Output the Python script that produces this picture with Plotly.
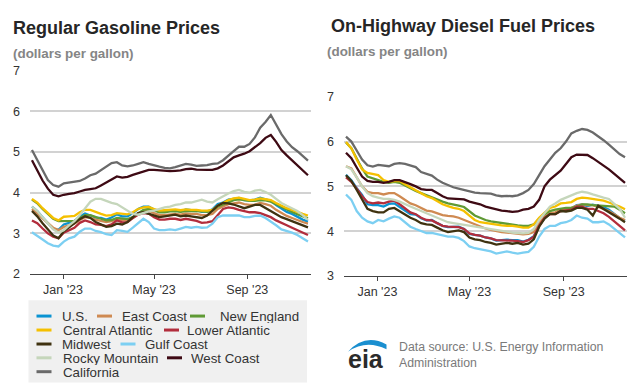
import plotly.graph_objects as go
import pandas as pd

W, H = 627, 392
FONT = "Liberation Sans, Arial, sans-serif"

# ---------------- data ----------------
dates = pd.date_range("2022-11-21", periods=53, freq="7D")

regions = ["U.S.", "East Coast", "New England", "Central Atlantic", "Lower Atlantic",
           "Midwest", "Gulf Coast", "Rocky Mountain", "West Coast", "California"]
colors = ["#0a93d2", "#cf8a52", "#5f9a35", "#f5c000", "#b22d3c",
          "#3f3210", "#7ccff2", "#c5d6bb", "#3e0a14", "#6a6a6a"]

x_tick_vals = ["2023-01-01", "2023-05-01", "2023-09-01"]
x_tick_text = ["Jan '23", "May '23", "Sep '23"]

# Regular gasoline ($/gal)
gas_us = [3.66, 3.55, 3.40, 3.25, 3.11, 3.09, 3.22, 3.26, 3.31, 3.42,
          3.49, 3.44, 3.39, 3.38, 3.34, 3.39, 3.47, 3.42, 3.42, 3.50,
          3.60, 3.66, 3.66, 3.59, 3.53, 3.54, 3.56, 3.57, 3.54, 3.59,
          3.57, 3.57, 3.53, 3.54, 3.59, 3.72, 3.76, 3.83, 3.85, 3.87,
          3.82, 3.81, 3.83, 3.88, 3.84, 3.80, 3.70, 3.61, 3.53, 3.48,
          3.40, 3.34, 3.29]
gas_east = [3.60, 3.50, 3.37, 3.25, 3.14, 3.08, 3.16, 3.20, 3.24, 3.33,
            3.40, 3.39, 3.34, 3.31, 3.28, 3.30, 3.36, 3.33, 3.32, 3.38,
            3.48, 3.55, 3.56, 3.50, 3.45, 3.45, 3.47, 3.48, 3.46, 3.49,
            3.48, 3.48, 3.45, 3.45, 3.48, 3.60, 3.66, 3.72, 3.74, 3.76,
            3.72, 3.70, 3.71, 3.75, 3.72, 3.68, 3.58, 3.50, 3.43, 3.38,
            3.32, 3.28, 3.24]
gas_ne = [3.83, 3.74, 3.60, 3.48, 3.36, 3.30, 3.30, 3.30, 3.31, 3.38,
          3.45, 3.45, 3.40, 3.36, 3.32, 3.33, 3.38, 3.36, 3.35, 3.40,
          3.50, 3.58, 3.60, 3.57, 3.52, 3.52, 3.54, 3.55, 3.53, 3.55,
          3.55, 3.55, 3.54, 3.53, 3.56, 3.66, 3.72, 3.78, 3.82, 3.84,
          3.82, 3.80, 3.80, 3.82, 3.81, 3.78, 3.72, 3.65, 3.58, 3.53,
          3.47, 3.42, 3.37]
gas_ca_atl = [3.85, 3.76, 3.62, 3.50, 3.38, 3.32, 3.41, 3.42, 3.43, 3.52,
              3.58, 3.58, 3.52, 3.48, 3.44, 3.45, 3.50, 3.48, 3.47, 3.52,
              3.60, 3.64, 3.65, 3.60, 3.56, 3.57, 3.58, 3.59, 3.57, 3.59,
              3.58, 3.58, 3.56, 3.56, 3.58, 3.68, 3.75, 3.82, 3.86, 3.88,
              3.85, 3.82, 3.83, 3.86, 3.84, 3.82, 3.75, 3.68, 3.62, 3.58,
              3.52, 3.48, 3.44]
gas_low_atl = [3.32, 3.25, 3.12, 3.00, 2.92, 2.88, 3.02, 3.08, 3.14, 3.26,
               3.32, 3.28, 3.22, 3.21, 3.18, 3.22, 3.32, 3.27, 3.28, 3.38,
               3.46, 3.50, 3.49, 3.40, 3.34, 3.34, 3.36, 3.36, 3.33, 3.36,
               3.33, 3.31, 3.26, 3.27, 3.30, 3.45, 3.60, 3.64, 3.62, 3.58,
               3.55, 3.52, 3.52, 3.50, 3.45, 3.40, 3.32, 3.25, 3.20, 3.14,
               3.08, 3.02, 2.96]
gas_midwest = [3.55, 3.42, 3.25, 3.10, 2.95, 2.88, 3.05, 3.15, 3.25, 3.35,
               3.42, 3.38, 3.28, 3.22, 3.16, 3.18, 3.24, 3.22, 3.28, 3.40,
               3.50, 3.52, 3.48, 3.44, 3.40, 3.42, 3.44, 3.46, 3.42, 3.44,
               3.42, 3.40, 3.38, 3.44, 3.55, 3.68, 3.75, 3.74, 3.71, 3.66,
               3.62, 3.66, 3.70, 3.70, 3.62, 3.55, 3.48, 3.40, 3.35, 3.30,
               3.26, 3.20, 3.15]
gas_gulf = [3.03, 2.95, 2.85, 2.76, 2.70, 2.68, 2.80, 2.88, 2.92, 3.04,
            3.12, 3.12, 3.06, 3.03, 2.98, 2.96, 3.08, 3.06, 3.04, 3.14,
            3.25, 3.36, 3.28, 3.12, 3.08, 3.08, 3.10, 3.08, 3.12, 3.16,
            3.14, 3.16, 3.14, 3.15, 3.24, 3.40, 3.44, 3.44, 3.45, 3.44,
            3.40, 3.40, 3.43, 3.44, 3.38, 3.30, 3.20, 3.10, 3.06, 3.02,
            2.96, 2.88, 2.80]
gas_rocky = [3.66, 3.55, 3.40, 3.25, 3.10, 3.02, 3.08, 3.20, 3.30, 3.45,
             3.62, 3.78, 3.85, 3.85, 3.80, 3.75, 3.72, 3.64, 3.54, 3.48,
             3.46, 3.50, 3.54, 3.56, 3.60, 3.64, 3.66, 3.70, 3.72, 3.76,
             3.76, 3.80, 3.83, 3.78, 3.76, 3.84, 3.92, 3.98, 4.04, 4.07,
             4.02, 4.00, 4.05, 4.07, 4.02, 3.95, 3.85, 3.75, 3.68, 3.62,
             3.55, 3.45, 3.33]
gas_west = [4.80, 4.55, 4.30, 4.10, 3.95, 3.91, 3.95, 3.97, 3.99, 4.03,
            4.07, 4.09, 4.11, 4.18, 4.25, 4.33, 4.40, 4.37, 4.39, 4.44,
            4.48, 4.52, 4.56, 4.56, 4.55, 4.54, 4.53, 4.54, 4.55, 4.58,
            4.59, 4.57, 4.56, 4.56, 4.56, 4.60, 4.67, 4.77, 4.87, 4.92,
            4.96, 5.02, 5.12, 5.22, 5.35, 5.42, 5.25, 5.05, 4.92, 4.80,
            4.68, 4.55, 4.43]
gas_calif = [5.05, 4.79, 4.55, 4.31, 4.19, 4.15, 4.23, 4.25, 4.26, 4.29,
             4.35, 4.43, 4.47, 4.55, 4.65, 4.73, 4.75, 4.67, 4.65, 4.67,
             4.71, 4.75, 4.71, 4.67, 4.64, 4.61, 4.60, 4.63, 4.67, 4.71,
             4.69, 4.66, 4.67, 4.68, 4.71, 4.72, 4.80, 4.90, 5.02, 5.13,
             5.13, 5.20, 5.36, 5.60, 5.74, 5.91, 5.66, 5.44, 5.26, 5.12,
             5.02, 4.90, 4.79]

# On-highway diesel ($/gal)
dsl_us = [5.26, 5.14, 4.96, 4.81, 4.60, 4.58, 4.58, 4.55, 4.61, 4.62,
          4.54, 4.45, 4.38, 4.37, 4.29, 4.24, 4.25, 4.18, 4.12, 4.09,
          4.10, 4.10, 4.05, 3.94, 3.92, 3.90, 3.86, 3.84, 3.79, 3.80,
          3.81, 3.80, 3.80, 3.77, 3.81, 3.89, 4.13, 4.29, 4.39, 4.39,
          4.47, 4.47, 4.50, 4.58, 4.59, 4.56, 4.59, 4.56, 4.54, 4.48,
          4.38, 4.29, 4.23]
dsl_east = [5.45, 5.40, 5.20, 5.00, 4.88, 4.85, 4.85, 4.82, 4.85, 4.85,
            4.78, 4.70, 4.62, 4.58, 4.52, 4.46, 4.44, 4.40, 4.36, 4.34,
            4.33, 4.30, 4.25, 4.20, 4.16, 4.10, 4.06, 4.03, 4.00, 3.98,
            3.97, 3.96, 3.95, 3.93, 3.94, 3.98, 4.18, 4.32, 4.40, 4.42,
            4.48, 4.50, 4.52, 4.57, 4.60, 4.58, 4.58, 4.54, 4.50, 4.45,
            4.38, 4.30, 4.25]
dsl_ne = [5.98, 5.85, 5.62, 5.40, 5.22, 5.18, 5.15, 5.10, 5.08, 5.10,
          5.08, 5.02, 4.95, 4.90, 4.85, 4.80, 4.75, 4.70, 4.66, 4.62,
          4.60, 4.57, 4.54, 4.45, 4.35, 4.30, 4.25, 4.22, 4.20, 4.18,
          4.16, 4.15, 4.13, 4.12, 4.12, 4.15, 4.28, 4.38, 4.45, 4.48,
          4.50, 4.52, 4.52, 4.55, 4.60, 4.60, 4.58, 4.57, 4.56, 4.56,
          4.55, 4.48, 4.40]
dsl_ca_atl = [5.99, 5.85, 5.60, 5.38, 5.30, 5.28, 5.25, 5.14, 5.10, 5.12,
              5.12, 5.05, 4.98, 4.92, 4.84, 4.78, 4.74, 4.66, 4.60, 4.56,
              4.52, 4.50, 4.45, 4.35, 4.25, 4.20, 4.18, 4.16, 4.14, 4.13,
              4.12, 4.12, 4.10, 4.08, 4.08, 4.15, 4.30, 4.42, 4.52, 4.55,
              4.62, 4.63, 4.65, 4.72, 4.75, 4.74, 4.72, 4.70, 4.68, 4.64,
              4.60, 4.55, 4.49]
dsl_low_atl = [5.20, 5.10, 4.95, 4.78, 4.65, 4.62, 4.64, 4.62, 4.66, 4.68,
               4.60, 4.50, 4.42, 4.38, 4.30, 4.25, 4.24, 4.18, 4.12, 4.10,
               4.10, 4.09, 4.05, 3.95, 3.92, 3.90, 3.86, 3.84, 3.80, 3.80,
               3.80, 3.79, 3.78, 3.76, 3.80, 3.88, 4.12, 4.30, 4.38, 4.38,
               4.45, 4.46, 4.48, 4.55, 4.55, 4.50, 4.50, 4.45, 4.40, 4.32,
               4.22, 4.12, 4.02]
dsl_midwest = [5.25, 5.12, 4.92, 4.72, 4.50, 4.45, 4.42, 4.42, 4.50, 4.52,
               4.45, 4.38, 4.30, 4.25, 4.18, 4.15, 4.14, 4.08, 4.02, 3.98,
               4.00, 4.02, 3.98, 3.86, 3.82, 3.80, 3.76, 3.74, 3.70, 3.72,
               3.74, 3.72, 3.74, 3.70, 3.72, 3.82, 4.10, 4.28, 4.38, 4.38,
               4.45, 4.44, 4.46, 4.52, 4.52, 4.48, 4.35, 4.57, 4.50, 4.42,
               4.35, 4.28, 4.20]
dsl_gulf = [4.82, 4.70, 4.45, 4.30, 4.22, 4.18, 4.25, 4.22, 4.28, 4.33,
            4.30, 4.20, 4.10, 4.05, 4.00, 3.96, 3.96, 3.93, 3.90, 3.88,
            3.88, 3.85, 3.78, 3.66, 3.62, 3.60, 3.58, 3.55, 3.50, 3.52,
            3.55, 3.52, 3.50, 3.52, 3.54, 3.65, 3.88, 4.05, 4.12, 4.12,
            4.18, 4.20, 4.25, 4.35, 4.30, 4.28, 4.20, 4.20, 4.22, 4.15,
            4.05, 3.95, 3.86]
dsl_rocky = [5.45, 5.38, 5.20, 5.00, 4.85, 4.78, 4.75, 4.72, 4.72, 4.70,
             4.66, 4.60, 4.55, 4.50, 4.45, 4.40, 4.35, 4.30, 4.25, 4.20,
             4.18, 4.16, 4.15, 4.12, 4.10, 4.08, 4.06, 4.04, 4.02, 4.00,
             3.98, 3.97, 3.96, 3.95, 3.96, 4.05, 4.25, 4.40, 4.55, 4.62,
             4.70, 4.75, 4.80, 4.85, 4.88, 4.86, 4.82, 4.78, 4.75, 4.72,
             4.62, 4.50, 4.30]
dsl_west = [5.75, 5.63, 5.42, 5.22, 5.12, 5.10, 5.10, 5.08, 5.10, 5.14,
            5.14, 5.10, 5.05, 5.00, 4.94, 4.92, 4.92, 4.85, 4.78, 4.73,
            4.72, 4.72, 4.71, 4.66, 4.63, 4.60, 4.55, 4.52, 4.48, 4.46,
            4.45, 4.43, 4.44, 4.48, 4.50, 4.55, 4.70, 5.00, 5.15, 5.25,
            5.35, 5.50, 5.65, 5.71, 5.71, 5.70, 5.63, 5.55, 5.47, 5.38,
            5.28, 5.17, 5.08]
dsl_calif = [6.11, 6.00, 5.80, 5.60, 5.47, 5.44, 5.48, 5.47, 5.45, 5.50,
             5.52, 5.50, 5.47, 5.43, 5.32, 5.28, 5.24, 5.15, 5.08, 5.03,
             4.98, 4.95, 4.92, 4.88, 4.86, 4.85, 4.84, 4.84, 4.80, 4.78,
             4.79, 4.78, 4.80, 4.85, 4.92, 5.05, 5.25, 5.45, 5.60, 5.75,
             5.85, 6.00, 6.18, 6.24, 6.28, 6.26, 6.20, 6.12, 6.03, 5.93,
             5.82, 5.72, 5.65]

gasoline = [gas_us, gas_east, gas_ne, gas_ca_atl, gas_low_atl,
            gas_midwest, gas_gulf, gas_rocky, gas_west, gas_calif]
diesel = [dsl_us, dsl_east, dsl_ne, dsl_ca_atl, dsl_low_atl,
          dsl_midwest, dsl_gulf, dsl_rocky, dsl_west, dsl_calif]

# ---------------- layout helpers ----------------
def px(x):
    return x / W


def py(y):
    return 1 - y / H


fig = go.Figure()

for name, col, g, d in zip(regions, colors, gasoline, diesel):
    fig.add_trace(go.Scatter(x=dates, y=g, name=name, mode="lines",
                             line=dict(color=col, width=2.3),
                             xaxis="x", yaxis="y", showlegend=False))
    fig.add_trace(go.Scatter(x=dates, y=d, name=name, mode="lines",
                             line=dict(color=col, width=2.3),
                             xaxis="x2", yaxis="y2", showlegend=False))

tickfont = dict(family=FONT, size=12.5, color="#333333")
grid = "#d2d2d2"

xcommon = dict(tickvals=x_tick_vals, ticktext=x_tick_text, showgrid=False,
               showline=True, linecolor="#444444", linewidth=1.2,
               ticks="outside", ticklen=4, tickcolor="#444444", tickwidth=1,
               tickfont=tickfont, zeroline=False, fixedrange=True)
ycommon = dict(dtick=1, showgrid=True, gridcolor=grid, gridwidth=1.6,
               showline=False, zeroline=False, ticks="", tickfont=tickfont,
               ticklabelstandoff=9, fixedrange=True)

# figure size is taken from its page box (fixed 627x392 at the top-left corner)
fig.update_layout(
    autosize=True,
    margin=dict(l=0, r=0, t=0, b=0),
    paper_bgcolor="white", plot_bgcolor="white",
    font=dict(family=FONT, color="#333333"),
    showlegend=False,
    xaxis=dict(domain=[px(30), px(311)], range=["2022-11-18 10:00", "2023-11-24"],
               anchor="y", **xcommon),
    yaxis=dict(domain=[py(277), py(66)], range=[2, 7.001], anchor="x", **ycommon),
    xaxis2=dict(domain=[px(344), 1.0], range=["2022-11-18 10:00", "2023-11-22 14:00"],
                anchor="y2", **xcommon),
    yaxis2=dict(domain=[py(279), py(93)], range=[3, 7.001], anchor="x2", **ycommon),
)

ann = []
# titles
ann.append(dict(text="<b>Regular Gasoline Prices</b>", x=px(11), y=py(21.5),
                font=dict(family=FONT, size=18, color="#262626")))
ann.append(dict(text="<b>(dollars per gallon)</b>", x=px(11), y=py(48),
                font=dict(family=FONT, size=13.4, color="#858585")))
ann.append(dict(text="<b>On-Highway Diesel Fuel Prices</b>", x=px(329), y=py(19.5),
                font=dict(family=FONT, size=18, color="#262626")))
ann.append(dict(text="<b>(dollars per gallon)</b>", x=px(325), y=py(46),
                font=dict(family=FONT, size=13.4, color="#858585")))

# legend (manual, built from region names / colors)
legend_rows = [320.5, 335, 349.5, 363.8, 378.2]
legend_items = [  # (dash start px, text start px, row)
    (36.5, 60, 0), (97, 119.5, 0), (190, 217.5, 0),
    (36.5, 60.5, 1), (164, 184.5, 1),
    (36.5, 60, 2), (120.5, 143, 2),
    (36.5, 60.5, 3), (167, 189, 3),
    (36.5, 60.5, 4),
]
order = ["U.S.", "East Coast", "New England", "Central Atlantic", "Lower Atlantic",
         "Midwest", "Gulf Coast", "Rocky Mountain", "West Coast", "California"]

shapes = [dict(type="rect", xref="paper", yref="paper", layer="below",
               x0=px(28.5), x1=px(307), y0=py(389.5), y1=py(304),
               fillcolor="#f0f0f0", line=dict(width=0))]
for name, (dx, tx, r) in zip(order, legend_items):
    col = colors[regions.index(name)]
    yy = legend_rows[r]
    shapes.append(dict(type="line", xref="paper", yref="paper",
                       x0=px(dx), x1=px(dx + 15), y0=py(yy), y1=py(yy),
                       line=dict(color=col, width=3)))
    ann.append(dict(text=name, x=px(tx), y=py(yy), height=14,
                    font=dict(family=FONT, size=13.3, color="#333333")))

# eia logo + source
swoosh = "M {} {} Q {} {} {} {} L {} {} Q {} {} {} {} Z".format(
    px(348), py(357.5), px(365), py(338), px(386.5), py(350),
    px(386.5), py(355), px(366), py(344.5), px(348), py(357.5))
shapes.append(dict(type="path", xref="paper", yref="paper", path=swoosh,
                   fillcolor="#1a8fd0", line=dict(width=0)))
ann.append(dict(text="<b>eia</b>", x=px(346), y=py(365),
                font=dict(family=FONT, size=25, color="#2b2b2b")))
ann.append(dict(text="Data source: U.S. Energy Information<br>Administration",
                x=px(397), y=py(361), align="left",
                font=dict(family=FONT, size=12.3, color="#7a7a7a")))

for a in ann:
    a.setdefault("xref", "paper")
    a.setdefault("yref", "paper")
    a.setdefault("xanchor", "left")
    a.setdefault("yanchor", "middle")
    a.setdefault("showarrow", False)

fig.update_layout(annotations=ann, shapes=shapes)

# page box: the graph div is pinned to the window corner at exactly 627x392,
# and a stylesheet (parsed before any script runs) removes page margins/scrolling
page_css = "html,body{margin:0!important;padding:0!important;overflow:hidden!important;}"
div_width = ('%dpx; position:fixed; left:0; top:0;"></div><style>%s</style>'
             '<div style="display:none' % (W, page_css))

page_fix = (
    "document.body.style.margin='0';"
    "document.body.style.padding='0';"
    "document.documentElement.style.margin='0';"
    "document.documentElement.style.overflow='hidden';"
    "document.body.style.overflow='hidden';"
)

fig.write_html(
    "out.html",
    config={"displayModeBar": False},
    default_width=div_width,
    default_height="%dpx" % H,
    post_script=page_fix,
)
